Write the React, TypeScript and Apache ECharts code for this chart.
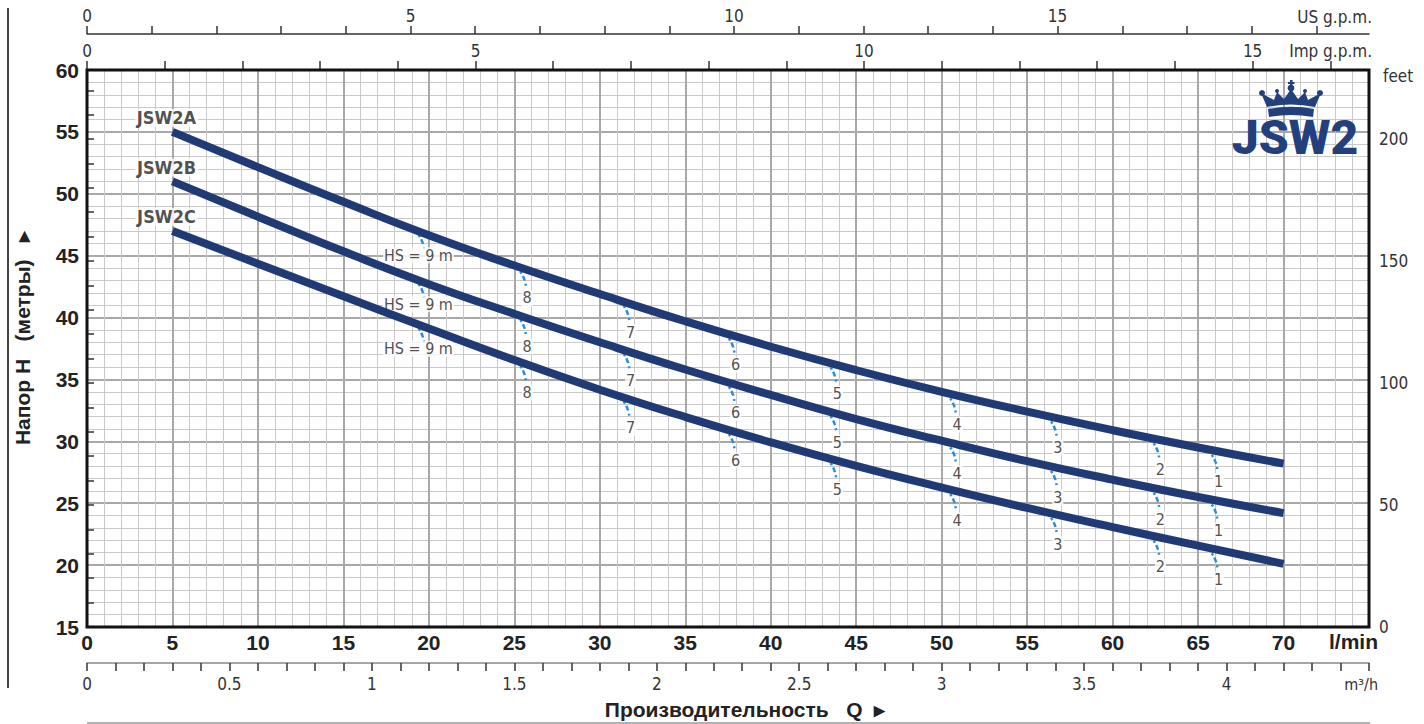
import React, { useEffect, useRef } from 'react';
import * as echarts from 'echarts';

// ---- data ----
const FLOW_LMIN = [5, 10, 15, 20, 25, 30, 35, 40, 45, 50, 55, 60, 65, 70];
const HEAD_JSW2A = [55.0, 52.15, 49.35, 46.65, 44.2, 41.9, 39.7, 37.65, 35.75, 34.0, 32.4, 30.9, 29.5, 28.2];
const HEAD_JSW2B = [51.0, 48.15, 45.35, 42.7, 40.3, 38.0, 35.8, 33.75, 31.8, 30.05, 28.4, 26.9, 25.5, 24.2];
const HEAD_JSW2C = [47.0, 44.35, 41.72, 39.12, 36.57, 34.17, 31.97, 29.92, 28.02, 26.27, 24.62, 23.07, 21.57, 20.1];
const CURVE_NAMES = ['JSW2A', 'JSW2B', 'JSW2C'];
const HS_FLOW = [19.1, 25.05, 31.1, 37.25, 43.2, 50.2, 56.1, 62.1, 65.5];
const HS_LABELS = ['HS = 9 m', '8', '7', '6', '5', '4', '3', '2', '1'];

const Y_TICKS_M = [15, 20, 25, 30, 35, 40, 45, 50, 55, 60];
const FEET_LABELS = [0, 50, 100, 150, 200];
const M3H_LABELS = [0, 0.5, 1, 1.5, 2, 2.5, 3, 3.5, 4];
const US_LABELS = [0, 5, 10, 15];
const IMP_LABELS = [0, 5, 10, 15];

// unit conversions / axis extents
const Q_MAX = 75;
const L_PER_USG = 3.78541;
const L_PER_IMPG = 4.54609;
const FEET_MAX = 228.3;

// hook shape of the suction-lift marks (offsets in l/min, m)
const HOOK = [[0, 0], [0.18, -0.24], [0.35, -0.57], [0.5, -0.97], [0.59, -1.37], [0.64, -1.78]];

const NAVY = '#1f3a75';
const HS_BLUE = '#2a8ddb';
const NARROW = '"Liberation Sans Narrow", "Arial Narrow", "DejaVu Sans Condensed", "Liberation Sans", sans-serif';
const SANS = '"Liberation Sans", Arial, Helvetica, sans-serif';

function range(a: number, b: number, step: number) {
  const out: number[] = [];
  const n = Math.round((b - a) / step);
  for (let i = 0; i <= n; i++) out.push(Math.round((a + i * step) * 1000) / 1000);
  return out;
}

function interp(xs: number[], ys: number[], x: number) {
  for (let i = 0; i < xs.length - 1; i++) {
    if (x >= xs[i] && x <= xs[i + 1]) {
      const t = (x - xs[i]) / (xs[i + 1] - xs[i]);
      return ys[i] + t * (ys[i + 1] - ys[i]);
    }
  }
  return ys[ys.length - 1];
}

function buildOption() {
  const heads = [HEAD_JSW2A, HEAD_JSW2B, HEAD_JSW2C];
  const series: any[] = [];

  heads.forEach((H, ci) => {
    HS_FLOW.forEach((q) => {
      const h0 = interp(FLOW_LMIN, H, q);
      series.push({
        type: 'line',
        data: HOOK.map(([dx, dy]) => [q + dx, h0 + dy]),
        smooth: true,
        symbol: 'none',
        lineStyle: { color: HS_BLUE, width: 2.5, type: [5, 3, 2, 3] },
        z: 3,
        silent: true,
      });
    });
    const last = HOOK[HOOK.length - 1];
    series.push({
      type: 'scatter',
      symbolSize: 0,
      z: 4,
      data: HS_FLOW.map((q, k) => {
        const h0 = interp(FLOW_LMIN, H, q);
        const isFirst = k === 0;
        return {
          value: [q + last[0], h0 + last[1]],
          name: HS_LABELS[k],
          label: {
            show: true,
            position: 'inside',
            offset: isFirst ? [-6, 4] : [1, 10],
            formatter: '{b}',
            fontFamily: NARROW,
            fontSize: 16,
            color: '#222',
            backgroundColor: '#fff',
            padding: [0, 1],
          },
        };
      }),
    });
    series.push({
      type: 'line',
      name: CURVE_NAMES[ci],
      data: FLOW_LMIN.map((q, i) => [q, H[i]]),
      smooth: 0.5,
      symbol: 'none',
      lineStyle: { color: NAVY, width: 8, cap: 'butt' },
      z: 5,
    });
    series.push({
      type: 'scatter',
      symbolSize: 0,
      z: 6,
      data: [
        {
          value: [FLOW_LMIN[0], H[0]],
          name: CURVE_NAMES[ci],
          label: {
            show: true,
            position: 'inside',
            offset: [-6, -14],
            formatter: '{b}',
            fontFamily: NARROW,
            fontWeight: 'bold',
            fontSize: 18,
            color: '#222',
            backgroundColor: '#fff',
            padding: [0, 2],
          },
        },
      ],
    });
  });

  const secLabel = { fontFamily: NARROW, fontSize: 17, color: '#333' };

  return {
    animation: false,
    grid: { left: 87, right: 55, top: 70, bottom: 97, show: false },
    xAxis: [
      {
        type: 'value',
        position: 'bottom',
        min: 0,
        max: Q_MAX,
        interval: 5,
        axisLine: { show: false },
        axisTick: { show: false },
        axisLabel: {
          margin: 5,
          fontFamily: SANS,
          fontWeight: 'bold',
          fontSize: 21,
          color: '#222',
          formatter: (v: number) => (v === Q_MAX ? '' : String(v)),
        },
        splitLine: { show: true, lineStyle: { color: '#a8a8a8', width: 2 } },
        minorTick: { show: false, splitNumber: 5 },
        minorSplitLine: { show: true, lineStyle: { color: '#c9c9c9', width: 1 } },
      },
      {
        type: 'value',
        position: 'top',
        offset: 0,
        min: 0,
        max: Q_MAX / L_PER_IMPG,
        axisLine: { show: true, lineStyle: { color: '#222', width: 1.5 } },
        axisTick: { show: true, length: 9, customValues: range(0, 16, 1), lineStyle: { color: '#333', width: 1.5 } },
        axisLabel: { ...secLabel, margin: 11, customValues: IMP_LABELS },
        splitLine: { show: false },
      },
      {
        type: 'value',
        position: 'top',
        offset: 36,
        min: 0,
        max: Q_MAX / L_PER_USG,
        axisLine: { show: true, lineStyle: { color: '#333', width: 1.5 } },
        axisTick: { show: true, length: 8, customValues: range(0, 19, 1), lineStyle: { color: '#333', width: 1.5 } },
        axisLabel: { ...secLabel, margin: 10, customValues: US_LABELS },
        splitLine: { show: false },
      },
      {
        type: 'value',
        position: 'bottom',
        offset: 36,
        min: 0,
        max: Q_MAX * 0.06,
        axisLine: { show: true, lineStyle: { color: '#888', width: 1.5 } },
        axisTick: { show: true, length: 8, customValues: range(0, 4.5, 0.1), lineStyle: { color: '#333', width: 1.5 } },
        axisLabel: { ...secLabel, margin: 12, customValues: M3H_LABELS },
        splitLine: { show: false },
      },
    ],
    yAxis: [
      {
        type: 'value',
        position: 'left',
        min: Y_TICKS_M[0],
        max: Y_TICKS_M[Y_TICKS_M.length - 1],
        interval: 5,
        axisLine: { show: false },
        axisTick: { show: false },
        axisLabel: { margin: 8, fontFamily: SANS, fontWeight: 'bold', fontSize: 21, color: '#222' },
        splitLine: { show: true, lineStyle: { color: '#a8a8a8', width: 2 } },
        minorTick: { show: false, splitNumber: 5 },
        minorSplitLine: { show: true, lineStyle: { color: '#c9c9c9', width: 1 } },
      },
      {
        type: 'value',
        position: 'right',
        min: 0,
        max: FEET_MAX,
        axisLine: { show: false },
        axisTick: { show: true, length: 7, customValues: range(0, 220, 10), lineStyle: { color: '#333', width: 1.5 } },
        axisLabel: { ...secLabel, margin: 10, customValues: FEET_LABELS },
        splitLine: { show: false },
      },
    ],
    series,
    graphic: [
      { type: 'rect', z: 100, shape: { x: 87, y: 70, width: 1282, height: 557 }, style: { fill: 'none', stroke: '#111', lineWidth: 3 } },
      { type: 'line', z: 100, shape: { x1: 8, y1: 8, x2: 8, y2: 688 }, style: { stroke: '#444', lineWidth: 2 } },
      { type: 'line', z: 100, shape: { x1: 87, y1: 723, x2: 1370, y2: 723 }, style: { stroke: '#999', lineWidth: 1.5 } },
      { type: 'text', z: 100, x: 1372, y: 17, style: { text: 'US g.p.m.', font: `17px ${NARROW}`, fill: '#333', align: 'right', verticalAlign: 'middle' } },
      { type: 'text', z: 100, x: 1372, y: 51, style: { text: 'Imp g.p.m.', font: `17px ${NARROW}`, fill: '#333', align: 'right', verticalAlign: 'middle' } },
      { type: 'text', z: 100, x: 1383, y: 76, style: { text: 'feet', font: `17px ${NARROW}`, fill: '#333', align: 'left', verticalAlign: 'middle' } },
      { type: 'text', z: 100, x: 1378, y: 641, style: { text: 'l/min', font: `bold 21px ${SANS}`, fill: '#222', align: 'right', verticalAlign: 'middle' } },
      { type: 'text', z: 100, x: 1378, y: 684, style: { text: 'm³/h', font: `16px ${NARROW}`, fill: '#333', align: 'right', verticalAlign: 'middle' } },
      { type: 'text', z: 100, x: 745, y: 709, style: { text: 'Производительность   Q  ▸', font: `bold 21px ${SANS}`, fill: '#222', align: 'center', verticalAlign: 'middle' } },
      { type: 'text', z: 100, x: 22, y: 338, rotation: Math.PI / 2, style: { text: 'Напор H   (метры)   ▸', font: `bold 21px ${SANS}`, fill: '#222', align: 'center', verticalAlign: 'middle' } },
      // logo
      { type: 'crown', z: 100, x: 1261, y: 82, style: { fill: '#22407d' } },
      { type: 'circle', z: 100, shape: { cx: 1262, cy: 93, r: 3 }, style: { fill: '#22407d' } },
      { type: 'circle', z: 100, shape: { cx: 1320, cy: 93, r: 3 }, style: { fill: '#22407d' } },
      { type: 'circle', z: 100, shape: { cx: 1291, cy: 88, r: 3.4 }, style: { fill: '#22407d' } },
      { type: 'circle', z: 100, shape: { cx: 1277, cy: 91, r: 2 }, style: { fill: '#22407d' } },
      { type: 'circle', z: 100, shape: { cx: 1305, cy: 91, r: 2 }, style: { fill: '#22407d' } },
      { type: 'rect', z: 100, shape: { x: 1290, y: 80, width: 2.5, height: 6 }, style: { fill: '#22407d' } },
      { type: 'rect', z: 100, shape: { x: 1288, y: 82, width: 6.5, height: 2 }, style: { fill: '#22407d' } },
      { type: 'text', z: 100, x: 1295, y: 137, style: { text: 'JSW2', font: `900 48px Roboto, "Open Sans", sans-serif`, fill: '#22407d', align: 'center', verticalAlign: 'middle' } },
    ],
  };
}

const CROWN_D =
  'M6 25 L0 11 L13 18 L16 10 L23 17 L30 7 L37 17 L44 10 L47 18 L60 11 L54 25 Q30 20 6 25 Z ' +
  'M7 27 Q30 22.5 53 27 L52 35 Q30 31 8 35 Z';

export default function App() {
  const ref = useRef<HTMLDivElement>(null);
  useEffect(() => {
    echarts.graphic.registerShape('crown', echarts.graphic.extendPath(CROWN_D, {}) as any);
    const chart = echarts.init(ref.current!, null, { renderer: 'svg' });
    chart.setOption(buildOption() as any);
    return () => chart.dispose();
  }, []);
  return <div ref={ref} style={{ position: 'absolute', left: 0, top: 0, width: 1424, height: 724 }} />;
}
